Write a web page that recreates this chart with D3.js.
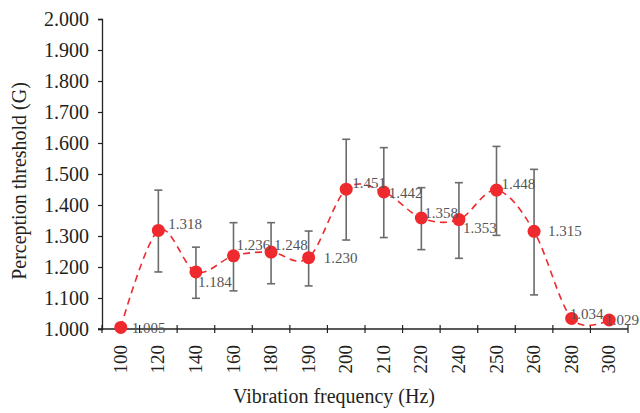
<!DOCTYPE html>
<html>
<head>
<meta charset="utf-8">
<script src="https://cdn.jsdelivr.net/npm/d3@7"></script>
<style>
  body { margin: 0; background: #fff; }
  svg { display: block; }
  text { font-family: "Liberation Serif", "DejaVu Serif", serif; }
</style>
</head>
<body>
<div id="chart"></div>
<script>
var width = 640,
    height = 413;

// data
var frequencies = ["100", "120", "140", "160", "180", "190", "200", "210", "220", "240", "250", "260", "280", "300"];
var thresholds = [1.005, 1.318, 1.184, 1.236, 1.248, 1.230, 1.451, 1.442, 1.358, 1.353, 1.448, 1.315, 1.034, 1.029];
var errHigh = [0, 0.130, 0.080, 0.107, 0.095, 0.086, 0.161, 0.143, 0.098, 0.119, 0.141, 0.200, 0, 0];
var errLow = [0, 0.134, 0.085, 0.113, 0.102, 0.091, 0.164, 0.147, 0.102, 0.125, 0.146, 0.205, 0, 0];
var yTicks = [1.0, 1.1, 1.2, 1.3, 1.4, 1.5, 1.6, 1.7, 1.8, 1.9, 2.0];

// label nudges (px) as placed in the original figure
var labelDx = [11, 10, 2, 3, 3, 15, 6, 5, 3, 4, 5, 14, -2, -4];
var labelDy = [0, -7, 10, -11, -7, 0, -6, 1, -5, 8, -6, -1, -5, 0];

var margin = {left: 102, right: 12, top: 19, bottom: 84};

var data = frequencies.map(function(f, i) {
    return {f: f, v: thresholds[i], hi: thresholds[i] + errHigh[i], lo: thresholds[i] - errLow[i], i: i};
});

var svg = d3.select("#chart").append("svg")
    .attr("width", width)
    .attr("height", height);

var x = d3.scaleBand()
    .domain(frequencies)
    .range([margin.left, width - margin.right])
    .paddingInner(0).paddingOuter(0);

var y = d3.scaleLinear()
    .domain([1.0, 2.0])
    .range([height - margin.bottom, margin.top]);

var cx = function(d) { return x(d.f) + x.bandwidth() / 2; };

// y axis
var yAxis = svg.append("g")
    .attr("transform", "translate(" + margin.left + ",0)")
    .call(d3.axisLeft(y).tickValues(yTicks).tickFormat(d3.format(".3f")).tickSize(4).tickPadding(9));
yAxis.select(".domain").attr("stroke", "#222").attr("stroke-width", 1.3);
yAxis.selectAll(".tick line").attr("stroke", "#222").attr("stroke-width", 1.2);
yAxis.selectAll(".tick text")
    .style("font-family", "Liberation Serif")
    .style("font-size", "20px")
    .attr("fill", "#231f20");

// x axis, ticks on band edges crossing the line
var xAxisG = svg.append("g")
    .attr("transform", "translate(0," + y(1.0) + ")");
xAxisG.append("line")
    .attr("x1", margin.left - 4).attr("x2", width - margin.right)
    .attr("stroke", "#222").attr("stroke-width", 1.3);
var edges = frequencies.map(function(f) { return x(f); }).concat([x.range()[1]]);
xAxisG.selectAll(".xt").data(edges).enter().append("line")
    .attr("x1", function(d) { return d; }).attr("x2", function(d) { return d; })
    .attr("y1", -4).attr("y2", 4)
    .attr("stroke", "#222").attr("stroke-width", 1.2);
xAxisG.selectAll(".xl").data(frequencies).enter().append("text")
    .attr("transform", function(d) { return "translate(" + (x(d) + x.bandwidth() / 2 + 6) + ",16) rotate(-90)"; })
    .attr("text-anchor", "end")
    .style("font-size", "19px")
    .attr("fill", "#231f20")
    .text(function(d) { return d; });

// axis titles
svg.append("text")
    .attr("transform", "translate(26,181) rotate(-90)")
    .attr("text-anchor", "middle")
    .style("font-size", "20px")
    .attr("fill", "#231f20")
    .text("Perception threshold (G)");
svg.append("text")
    .attr("x", 334).attr("y", 403)
    .attr("text-anchor", "middle")
    .style("font-size", "20px")
    .attr("fill", "#231f20")
    .text("Vibration frequency (Hz)");

// error bars
var eb = svg.append("g").selectAll("g")
    .data(data.filter(function(d) { return d.hi > d.lo; }))
    .enter().append("g")
    .attr("stroke", "#6b6b6b").attr("stroke-width", 1.6);
eb.append("line")
    .attr("x1", cx).attr("x2", cx)
    .attr("y1", function(d) { return y(d.hi); }).attr("y2", function(d) { return y(d.lo); });
eb.append("line")
    .attr("x1", function(d) { return cx(d) - 4; }).attr("x2", function(d) { return cx(d) + 4; })
    .attr("y1", function(d) { return y(d.hi); }).attr("y2", function(d) { return y(d.hi); });
eb.append("line")
    .attr("x1", function(d) { return cx(d) - 4; }).attr("x2", function(d) { return cx(d) + 4; })
    .attr("y1", function(d) { return y(d.lo); }).attr("y2", function(d) { return y(d.lo); });

// smoothed dashed line
var line = d3.line()
    .x(cx)
    .y(function(d) { return y(d.v); })
    .curve(d3.curveCardinal.tension(0));
svg.append("path")
    .datum(data)
    .attr("d", line)
    .attr("fill", "none")
    .attr("stroke", "#ee2a2e")
    .attr("stroke-width", 1.6)
    .attr("stroke-dasharray", "7,5");

// markers
svg.append("g").selectAll("circle")
    .data(data)
    .enter().append("circle")
    .attr("cx", cx)
    .attr("cy", function(d) { return y(d.v); })
    .attr("r", 6.5)
    .attr("fill", "#ee2a2e");

// data labels
svg.append("g").selectAll("text")
    .data(data)
    .enter().append("text")
    .attr("x", function(d) { return cx(d) + labelDx[d.i]; })
    .attr("y", function(d) { return y(d.v) + labelDy[d.i]; })
    .attr("dy", "0.35em")
    .style("font-size", "15px")
    .attr("fill", "#555")
    .text(function(d) { return d3.format(".3f")(d.v); });
</script>
</body>
</html>
